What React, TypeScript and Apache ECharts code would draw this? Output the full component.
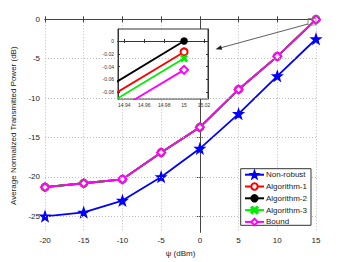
import React, { useEffect, useRef } from "react";
import * as echarts from "echarts";

const psi = [-20, -15, -10, -5, 0, 5, 10, 15];
const nonRobust = [-25, -24.5, -23, -20, -16.4, -12, -7.2, -2.5];
const algorithm1 = [-21.3, -20.8, -20.3, -16.9, -13.7, -8.9, -4.7, -0.017];
const algorithm2 = [-21.3, -20.8, -20.3, -16.9, -13.7, -8.9, -4.7, 0];
const algorithm3 = [-21.3, -20.8, -20.3, -16.9, -13.7, -8.9, -4.7, -0.027];
const bound = [-21.3, -20.8, -20.3, -16.9, -13.7, -8.9, -4.7, -0.045];

const yTicks = [-25, -20, -15, -10, -5, 0];
const yGridLines = [-25, -20, -15, -10, -5];
const insetXTicks = [14.94, 14.96, 14.98, 15, 15.02];
const insetYTicks = [-0.08, -0.06, -0.04, -0.02, 0];

const legendNames = ["Non-robust", "Algorithm-1", "Algorithm-2", "Algorithm-3", "Bound"];

const FONT = "Liberation Sans, Arial, sans-serif";
const STAR =
  "path://M0,-10 L2.35,-3.24 L9.51,-3.09 L3.8,1.24 L5.88,8.09 L0,4 L-5.88,8.09 L-3.8,1.24 L-9.51,-3.09 L-2.35,-3.24 Z";
const XMARK =
  "path://M0,1.5 L1.5,0 L5,3.5 L8.5,0 L10,1.5 L6.5,5 L10,8.5 L8.5,10 L5,6.5 L1.5,10 L0,8.5 L3.5,5 Z";

const pairs = (ys: number[]) => psi.map((x, i) => [x, ys[i]]);

export default function App() {
  const ref = useRef<HTMLDivElement>(null);
  useEffect(() => {
    document.body.style.margin = "0";
    const chart = echarts.init(ref.current!, null, { renderer: "svg" });

    const seriesDefs = [
      { name: "Non-robust", data: nonRobust, color: "#0000ff", symbol: STAR, size: 9, inset: false },
      { name: "Algorithm-1", data: algorithm1, color: "#ff0000", symbol: "emptyCircle", size: 7, inset: true },
      { name: "Algorithm-2", data: algorithm2, color: "#000000", symbol: "circle", size: 6, inset: true },
      { name: "Algorithm-3", data: algorithm3, color: "#00ee00", symbol: XMARK, size: 6, inset: true },
      { name: "Bound", data: bound, color: "#ff00ff", symbol: "emptyDiamond", size: 8, inset: true },
    ];

    const gridStyle = { color: "#bdbdbd", type: [1, 2], width: 1 };

    const series: any[] = [
      {
        type: "line",
        name: "__grid",
        xAxisIndex: 0,
        yAxisIndex: 0,
        data: [],
        silent: true,
        z: 1,
        markLine: {
          silent: true,
          symbol: "none",
          label: { show: false },
          lineStyle: gridStyle,
          emphasis: { disabled: true },
          data: yGridLines.map((v) => ({ yAxis: v })),
        },
      },
    ];
    seriesDefs.forEach((s) => {
      series.push({
        type: "line",
        name: s.name,
        xAxisIndex: 0,
        yAxisIndex: 0,
        data: pairs(s.data),
        symbol: s.symbol,
        symbolSize: s.size,
        showAllSymbol: true,
        lineStyle: { color: s.color, width: 1.8 },
        itemStyle: { color: s.color, borderColor: s.color, borderWidth: 1.5 },
        z: 2,
      });
    });
    seriesDefs.forEach((s) => {
      if (!s.inset) return;
      series.push({
        type: "line",
        name: s.name,
        xAxisIndex: 2,
        yAxisIndex: 2,
        data: pairs(s.data),
        symbol: s.symbol,
        symbolSize: s.size,
        clip: true,
        lineStyle: { color: s.color, width: 1.8 },
        itemStyle: { color: s.color, borderColor: s.color, borderWidth: 1.5 },
        z: 7,
      });
    });

    const labelStyle = { fontFamily: FONT, fontSize: 8, color: "#222" };
    const insetLabel = { fontFamily: FONT, fontSize: 5, color: "#333" };
    const axisLine = { show: true, lineStyle: { color: "#444", width: 1 } };

    chart.setOption({
      animation: false,
      backgroundColor: "#fff",
      grid: [
        { left: 45, top: 19.3, width: 271, height: 213.4, show: false },
        {
          left: 118,
          top: 29,
          width: 90,
          height: 70,
          show: true,
          backgroundColor: "#fff",
          borderColor: "#333",
          borderWidth: 1,
          z: 5,
        },
      ],
      xAxis: [
        {
          gridIndex: 0,
          type: "value",
          min: -20,
          max: 15,
          interval: 5,
          position: "bottom",
          axisLine,
          axisTick: { inside: true, length: 3, lineStyle: { color: "#444" } },
          axisLabel: { ...labelStyle, margin: 4 },
          splitLine: { show: true, lineStyle: gridStyle },
          name: "ψ (dBm)",
          nameLocation: "middle",
          nameGap: 12,
          nameTextStyle: { fontFamily: FONT, fontSize: 8, color: "#222" },
        },
        {
          gridIndex: 0,
          type: "value",
          min: -20,
          max: 15,
          interval: 5,
          position: "top",
          axisLine,
          axisTick: { inside: true, length: 3, lineStyle: { color: "#444" } },
          axisLabel: { show: false },
          splitLine: { show: false },
        },
        {
          gridIndex: 1,
          type: "value",
          min: 14.9337,
          max: 15.024,
          position: "bottom",
          axisLine: { show: true, lineStyle: { color: "#333" } },
          axisTick: { inside: true, length: 2, customValues: insetXTicks, lineStyle: { color: "#333" } },
          axisLabel: { ...insetLabel, margin: 3, customValues: insetXTicks },
          splitLine: { show: false },
          z: 6,
        },
        {
          gridIndex: 1,
          type: "value",
          min: 14.9337,
          max: 15.024,
          position: "top",
          axisLine: { show: true, lineStyle: { color: "#333" } },
          axisTick: { inside: true, length: 2, customValues: insetXTicks, lineStyle: { color: "#333" } },
          axisLabel: { show: false },
          splitLine: { show: false },
          z: 6,
        },
      ],
      yAxis: [
        {
          gridIndex: 0,
          type: "value",
          min: -27,
          max: 0,
          position: "left",
          axisLine,
          axisTick: { show: true, inside: true, length: 3, customValues: yTicks, lineStyle: { color: "#444" } },
          axisLabel: { ...labelStyle, margin: 5, customValues: yTicks },
          splitLine: { show: false },
          name: "Average Normalized Transmitted Power (dB)",
          nameLocation: "middle",
          nameGap: 17,
          nameTextStyle: { fontFamily: FONT, fontSize: 8, color: "#222" },
        },
        {
          gridIndex: 0,
          type: "value",
          min: -27,
          max: 0,
          position: "right",
          axisLine,
          axisTick: { show: true, inside: true, length: 3, customValues: yTicks, lineStyle: { color: "#444" } },
          axisLabel: { show: false },
          splitLine: { show: false },
        },
        {
          gridIndex: 1,
          type: "value",
          min: -0.0904,
          max: 0.0187,
          position: "left",
          axisLine: { show: true, lineStyle: { color: "#333" } },
          axisTick: { show: true, inside: true, length: 2, customValues: insetYTicks, lineStyle: { color: "#333" } },
          axisLabel: { ...insetLabel, margin: 4, customValues: insetYTicks },
          splitLine: { show: false },
          z: 6,
        },
        {
          gridIndex: 1,
          type: "value",
          min: -0.0904,
          max: 0.0187,
          position: "right",
          axisLine: { show: true, lineStyle: { color: "#333" } },
          axisTick: { show: true, inside: true, length: 2, customValues: insetYTicks, lineStyle: { color: "#333" } },
          axisLabel: { show: false },
          splitLine: { show: false },
          z: 6,
        },
      ],
      legend: {
        data: legendNames,
        orient: "vertical",
        left: 244,
        top: 170.5,
        padding: 0,
        itemWidth: 19,
        itemHeight: 8,
        itemGap: 3.4,
        textStyle: { fontFamily: FONT, fontSize: 8, color: "#222", padding: [0, 0, 0, -3] },
        z: 12,
      },
      graphic: [
        {
          type: "rect",
          shape: { x: 240.7, y: 168.7, width: 70.3, height: 56.6 },
          style: { fill: "#fff", stroke: "#333", lineWidth: 1 },
          z: 11,
        },
        {
          type: "rect",
          shape: { x: 308, y: 18.5, width: 8, height: 6.5 },
          style: { fill: "none", stroke: "#777", lineWidth: 0.8 },
          z: 10,
        },
        {
          type: "line",
          shape: { x1: 308, y1: 24, x2: 220, y2: 48 },
          style: { stroke: "#333", lineWidth: 0.8 },
          z: 10,
        },
        {
          type: "polygon",
          shape: { points: [[215.5, 49.2], [222.2, 49.8], [221.0, 45.3]] },
          style: { fill: "#222" },
          z: 10,
        },
      ],
      series,
    });
    return () => chart.dispose();
  }, []);
  return (
    <div
      ref={ref}
      style={{ position: "fixed", left: 0, top: 0, width: 349, height: 262 }}
    />
  );
}
